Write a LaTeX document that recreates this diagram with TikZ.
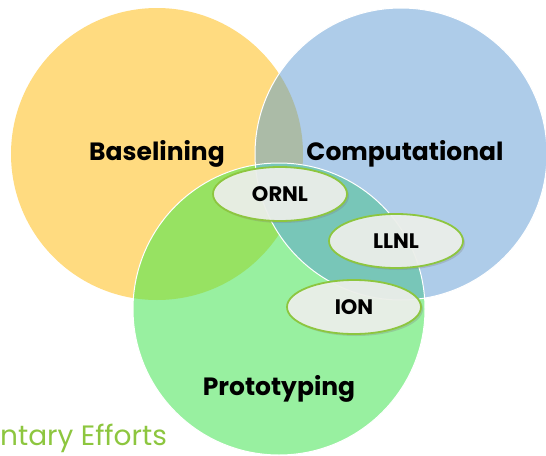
\documentclass[tikz,border=0pt]{standalone}
\usepackage{fontspec}
\setmainfont{Poppins}
\usetikzlibrary{shapes.geometric, shadows}

\definecolor{baseorange}{HTML}{FFDB80}
\definecolor{compblue}{HTML}{AECCE9}
\definecolor{protogreen}{HTML}{98F0A0}
\definecolor{obmix}{HTML}{ABBBA7}
\definecolor{ogmix}{HTML}{97E262}
\definecolor{bgmix}{HTML}{78C6B8}
\definecolor{labgreen}{HTML}{8DC63F}
\definecolor{labfill}{HTML}{EEF1EC}

\tikzset{
    area/.style={font=\bfseries\fontsize{25}{30}\selectfont},
    lab/.style={ellipse, draw=labgreen, line width=1.8pt, fill=labfill,
        fill opacity=0.92, text opacity=1,
        minimum width=134pt, minimum height=54pt,
        drop shadow={opacity=0.3, shadow xshift=2pt, shadow yshift=-2pt},
        font=\bfseries\fontsize{21}{25}\selectfont}
}

\begin{document}
\begin{tikzpicture}[x=1pt,y=-1pt]
    \useasboundingbox (0,0) rectangle (546,455);
    % Circles
    \fill[baseorange] (157,154) circle[radius=146pt];
    \fill[compblue] (401,154) circle[radius=146pt];
    \fill[protogreen] (279,309) circle[radius=146pt];
    % Overlaps
    \begin{scope}
        \clip (157,154) circle[radius=146pt];
        \fill[obmix] (401,154) circle[radius=146pt];
        \fill[ogmix] (279,309) circle[radius=146pt];
    \end{scope}
    \begin{scope}
        \clip (401,154) circle[radius=146pt];
        \fill[bgmix] (279,309) circle[radius=146pt];
    \end{scope}
    % White rims
    \draw[white, line width=1pt] (401,154) circle[radius=146pt];
    \draw[white, line width=1pt] (279,309) circle[radius=146pt];
    % Area names
    \node[area] (base) at (157,154) {Baselining};
    \node[area] (comp) at (405,154) {Computational};
    \node[area] (proto) at (279,389) {Prototyping};
    % Labs
    \node[lab] (ornl) at (280,194) {ORNL};
    \node[lab] (llnl) at (396,241) {LLNL};
    \node[lab] (ion) at (354,307) {ION};
    % Cut-off title
    \node[anchor=base west, inner sep=0pt, text=labgreen,
        font=\fontsize{28}{33}\selectfont] (title) at (0,445) {ntary Efforts};
\end{tikzpicture}
\end{document}
